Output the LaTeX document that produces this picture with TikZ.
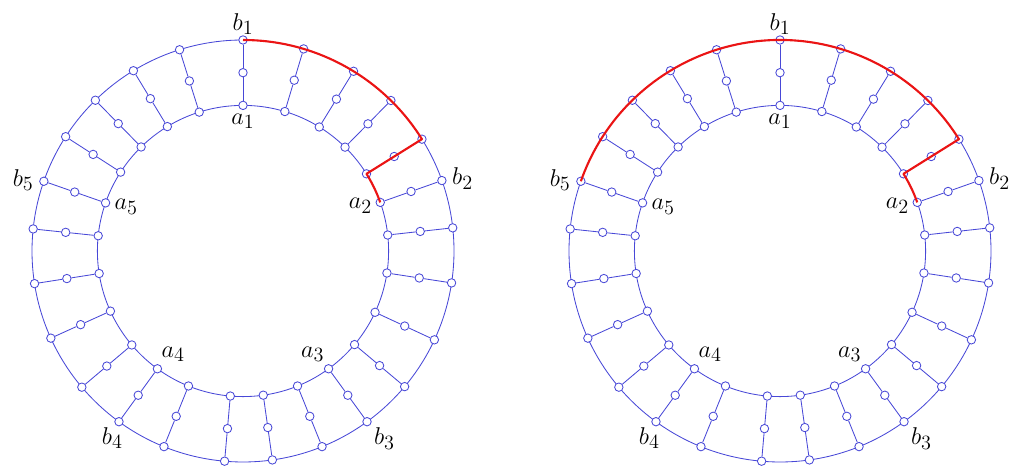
\documentclass[tikz,border=0pt]{standalone}
\usepackage{tikz}
\usetikzlibrary{positioning}
\definecolor{ringblue}{RGB}{72,72,215}
\definecolor{pathred}{RGB}{235,20,20}
\tikzset{
  vtx/.style  ={circle, draw=ringblue, fill=white, inner sep=0pt,
                minimum size=6pt, line width=0.6pt},
  ring/.style ={draw=ringblue, line width=0.6pt},
  lab/.style  ={inner sep=0pt, font=\fontsize{19}{22}\selectfont},
  hot/.style  ={draw=pathred, line width=1.5pt, line join=round}
}

\begin{document}
\begin{tikzpicture}
  \useasboundingbox (0,0) rectangle (25.4,11.675);
  \def\Ro{5.275} \def\Ri{3.64} \def\Rm{4.4575}
  \coordinate (L) at (6.075,5.4);
  \coordinate (R) at (19.5,5.4);
  % two rings, 25 spokes each (angles clockwise from the top)
  \foreach \c in {L,R}{
    \draw[ring] (\c) circle[radius=\Ro] (\c) circle[radius=\Ri];
    \foreach \k/\t in {0/0,1/16.7,2/31.6,3/44.5,4/58,5/70.5,6/83.7,7/98.7,
                       8/114.9,9/130,10/144,11/158,12/172,13/185,14/202,
                       15/216,16/229.8,17/245.6,18/261.1,19/276,20/289.3,
                       21/302.8,22/315.6,23/328.7,24/342.5}{
      \pgfmathsetmacro\ang{90-\t}
      \node[vtx] (\c-o-\k) at ([shift={(\ang:\Ro)}]\c) {};
      \node[vtx] (\c-m-\k) at ([shift={(\ang:\Rm)}]\c) {};
      \node[vtx] (\c-i-\k) at ([shift={(\ang:\Ri)}]\c) {};
      \draw[ring] (\c-o-\k) -- (\c-m-\k) -- (\c-i-\k);
    }
    % labels
    \node[lab, anchor=south]      (\c-b1) at ([shift={(0,0.12)}]\c-o-0.center)      {$b_1$};
    \node[lab, anchor=north]      (\c-a1) at ([shift={(0,-0.2)}]\c-i-0.center)      {$a_1$};
    \node[lab, anchor=west]       (\c-b2) at ([shift={(0.25,0.05)}]\c-o-5.center)   {$b_2$};
    \node[lab, anchor=north east] (\c-a2) at ([shift={(-0.2,0.12)}]\c-i-5.center)   {$a_2$};
    \node[lab, anchor=north west] (\c-b3) at ([shift={(0.17,-0.15)}]\c-o-10.center) {$b_3$};
    \node[lab, anchor=south east] (\c-a3) at ([shift={(-0.1,0.17)}]\c-i-10.center)  {$a_3$};
    \node[lab, anchor=north east] (\c-b4) at ([shift={(0.1,-0.13)}]\c-o-15.center)  {$b_4$};
    \node[lab, anchor=south west] (\c-a4) at ([shift={(0.1,0.17)}]\c-i-15.center)   {$a_4$};
    \node[lab, anchor=east]       (\c-b5) at ([shift={(-0.25,0.03)}]\c-o-20.center) {$b_5$};
    \node[lab, anchor=north west] (\c-a5) at ([shift={(0.22,0.1)}]\c-i-20.center)   {$a_5$};
  }
  % red paths
  \draw[hot] (L-o-0.center) arc[start angle=90, end angle=32, radius=\Ro]
    -- (L-m-4.center) -- (L-i-4.center) arc[start angle=32, end angle=19.5, radius=\Ri];
  \draw[hot] (R-o-20.center) arc[start angle=160.7, end angle=32, radius=\Ro]
    -- (R-m-4.center) -- (R-i-4.center) arc[start angle=32, end angle=19.5, radius=\Ri];
\end{tikzpicture}
\end{document}
